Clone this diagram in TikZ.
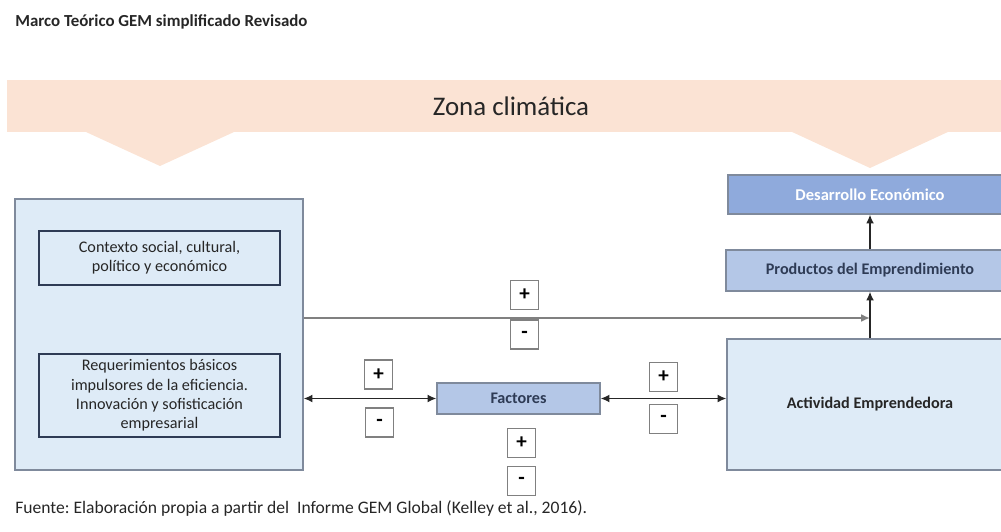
\documentclass[tikz,border=0pt]{standalone}
\usepackage{fontspec}
\setmainfont{Carlito}
\usetikzlibrary{arrows.meta}
\frenchspacing

\definecolor{bandpeach}{HTML}{FBE3D4}
\definecolor{paleblue}{HTML}{DEEBF7}
\definecolor{midblue}{HTML}{B4C7E7}
\definecolor{deepblue}{HTML}{8FAADC}
\definecolor{frame}{HTML}{7F8A9C}
\definecolor{navy}{HTML}{2E3B55}
\definecolor{ink}{HTML}{262626}

\tikzset{
    panel/.style={draw=frame, fill=paleblue, line width=0.8pt},
    innerbox/.style={draw=navy, line width=1.2pt, align=center, font=\fontsize{9.2}{11}\selectfont, text=ink},
    bluebox/.style={draw=frame, fill=midblue, line width=0.8pt, font=\bfseries\fontsize{9.2}{11}\selectfont, text=navy},
    signbox/.style={draw=gray, fill=white, line width=0.8pt, minimum width=0.56cm, minimum height=0.58cm, font=\bfseries\large, text=black, inner sep=0pt},
    link/.style={draw=ink, line width=0.8pt},
    >={Latex[length=5pt,width=4.5pt]}
}

\begin{document}
\begin{tikzpicture}[x=0.02cm, y=-0.02cm]

    \useasboundingbox (0,0) rectangle (1001,531);
    \clip (0,0) rectangle (1001,531);

    %Title
    \node[anchor=west, inner sep=0pt, font=\bfseries\fontsize{9.6}{11}\selectfont, text=ink] (title) at (15,22) {Marco Teórico GEM simplificado Revisado};

    %Climate band
    \fill[bandpeach] (7,80) rectangle (1010,132);
    \fill[bandpeach] (86,132) -- (234,132) -- (160,166) -- cycle;
    \fill[bandpeach] (790,131) -- (950,131) -- (870,168) -- cycle;
    \node[font=\fontsize{15.3}{18}\selectfont, text=ink] (zona) at (511,106) {Zona climática};

    %Boxes
    \node[panel, minimum width=5.76cm, minimum height=5.42cm] (contexto) at (159,334.5) {};
    \node[innerbox, minimum width=4.82cm, minimum height=1.08cm] (social) at (159.5,258) {Contexto social, cultural,\\político y económico};
    \node[innerbox, minimum width=4.82cm, minimum height=1.58cm] (basicos) at (159.5,395.5) {Requerimientos básicos\\impulsores de la eficiencia.\\Innovación y sofisticación\\empresarial};

    \node[bluebox, minimum width=3.26cm, minimum height=0.62cm] (factores) at (518.5,398.5) {Factores};

    \node[panel, minimum width=5.72cm, minimum height=2.62cm, font=\bfseries\fontsize{9.2}{11}\selectfont, text=ink] (actividad) at (870,404.5) {Actividad Emprendedora};
    \node[bluebox, minimum width=5.76cm, minimum height=0.82cm] (productos) at (870,270.5) {Productos del Emprendimiento};
    \node[bluebox, fill=deepblue, text=white, font=\bfseries\fontsize{9.4}{11}\selectfont, minimum width=5.68cm, minimum height=0.78cm] (desarrollo) at (870,194.5) {Desarrollo Económico};

    %Signs
    \node[signbox] (topplus) at (524.5,295) {+};
    \node[signbox] (topminus) at (524.5,334.5) {-};
    \node[signbox] (leftplus) at (378.5,374.5) {+};
    \node[signbox] (leftminus) at (379.5,422.5) {-};
    \node[signbox] (rightplus) at (663.5,377) {+};
    \node[signbox] (rightminus) at (663.5,419) {-};
    \node[signbox] (lowplus) at (521.5,443) {+};
    \node[signbox] (lowminus) at (521.5,481) {-};

    %Edges
    \coordinate (meet) at (870,318);
    \draw[link, draw=gray, line width=1.1pt, ->] (contexto.east |- meet) -- (meet);
    \draw[link, <->] (factores.west -| contexto.east) -- (factores.west);
    \draw[link, <->] (factores.east) -- (factores.east -| actividad.west);
    \draw[link, ->] (actividad.north) -- (productos.south);
    \draw[link, ->] (productos.north) -- (desarrollo.south);

    %Source
    \node[anchor=west, inner sep=0pt, font=\fontsize{10}{12}\selectfont, text=ink] (fuente) at (15,508) {Fuente: Elaboración propia a partir del\ \ Informe GEM Global (Kelley et al., 2016).};

\end{tikzpicture}
\end{document}
